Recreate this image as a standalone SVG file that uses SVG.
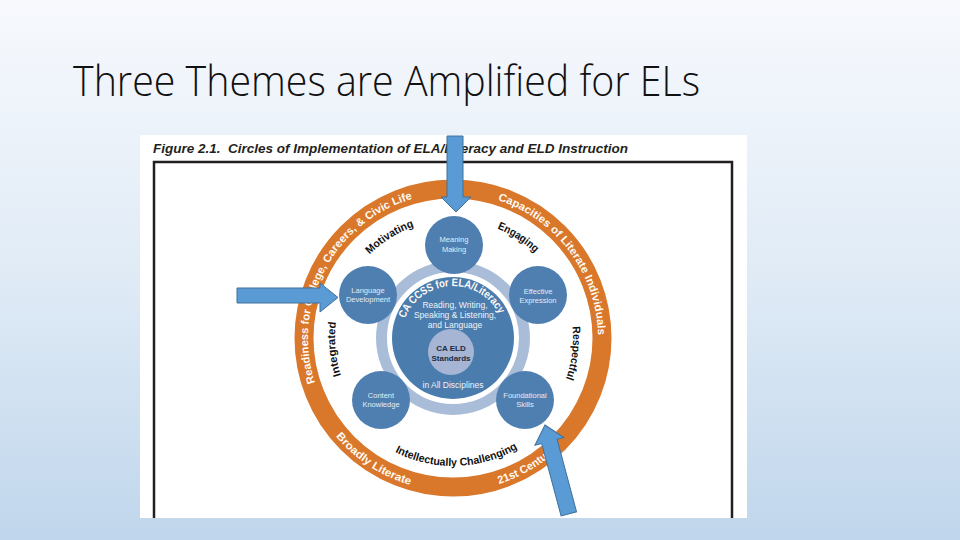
<svg xmlns="http://www.w3.org/2000/svg" width="960" height="540" viewBox="0 0 960 540">
<defs>
<linearGradient id="bg" x1="0" y1="0" x2="0" y2="1">
<stop offset="0" stop-color="#f7f9fd"/>
<stop offset="0.5" stop-color="#e0ebf6"/>
<stop offset="1" stop-color="#c0d6ec"/>
</linearGradient>
<style>
.node circle{fill:#4e7fb0}
.nt{font-family:"Liberation Sans",Arial,sans-serif;font-size:7.5px;fill:#e4ecf5;text-anchor:middle}
.bt{font-family:"Liberation Sans",Arial,sans-serif;font-size:8.5px;fill:#eef3f9;text-anchor:middle}
.ring{font-family:"Liberation Sans",Arial,sans-serif;font-weight:bold;font-size:11px;fill:#fffaf3}
.inner{font-family:"Liberation Sans",Arial,sans-serif;font-weight:bold;font-size:11px;fill:#111}
.arrow{fill:#5b9bd5;stroke:#41719c;stroke-width:1}
</style>
<path id="p-ready" d="M-137.9,44.8 A145,145 0 0 1 -40,-139.4"/>
<path id="p-cap" d="M44.8,-137.9 A145,145 0 0 1 145,-2.5"/>
<path id="p-broad" d="M-117.2,98.3 A153,153 0 0 0 -42.2,147.1"/>
<path id="p-21" d="M46,145.9 A153,153 0 0 0 103.4,112.8"/>
<path id="p-mot" d="M-83.4,-83.4 A118,118 0 0 1 -38.4,-111.6"/>
<path id="p-eng" d="M44.2,-109.4 A118,118 0 0 1 82,-84.9"/>
<path id="p-resp" d="M119.4,-11.5 A120,120 0 0 1 112.8,41"/>
<path id="p-int" d="M-58.1,114 A128,128 0 0 0 65,110.3"/>
<path id="p-integ" d="M-111.9,37.4 A118,118 0 0 1 -116.9,-16.4"/>
<path id="p-ccss" d="M-48.2,-19.5 A52,52 0 0 1 46.3,-23.6"/>
</defs>

<rect x="0" y="0" width="960" height="540" fill="url(#bg)"/>
<text x="73" y="96" font-family="Open Sans, Liberation Sans, Arial, sans-serif" font-weight="300" font-size="42" fill="#111" textLength="627" lengthAdjust="spacingAndGlyphs">Three Themes are Amplified for ELs</text>

<g id="figure">
<rect x="140" y="135" width="607" height="383" fill="#ffffff"/>
<text x="153" y="153" font-family="Liberation Sans, Arial, sans-serif" font-size="12" font-weight="bold" font-style="italic" fill="#231f20" textLength="475" lengthAdjust="spacingAndGlyphs">Figure 2.1.&#160; Circles of Implementation of ELA/Literacy and ELD Instruction</text>
<path d="M154,518 V162 H732 V518" fill="none" stroke="#231f20" stroke-width="2.5"/>

<g id="outer-ring" transform="translate(453,338)">
<circle cx="0" cy="0" r="149" fill="none" stroke="#d9772a" stroke-width="19"/>
<text class="ring"><textPath href="#p-ready" textLength="232" lengthAdjust="spacingAndGlyphs">Readiness for College, Careers, &amp; Civic Life</textPath></text>
<text class="ring"><textPath href="#p-cap" textLength="179" lengthAdjust="spacingAndGlyphs">Capacities of Literate Individuals</textPath></text>
<text class="ring"><textPath href="#p-broad" textLength="90" lengthAdjust="spacingAndGlyphs">Broadly Literate</textPath></text>
<text class="ring"><textPath href="#p-21" textLength="66" lengthAdjust="spacingAndGlyphs">21st Century</textPath></text>
<text class="inner"><textPath href="#p-mot" textLength="53" lengthAdjust="spacingAndGlyphs">Motivating</textPath></text>
<text class="inner"><textPath href="#p-eng" textLength="45" lengthAdjust="spacingAndGlyphs">Engaging</textPath></text>
<text class="inner"><textPath href="#p-resp" textLength="53" lengthAdjust="spacingAndGlyphs">Respectful</textPath></text>
<text class="inner"><textPath href="#p-int" textLength="128" lengthAdjust="spacingAndGlyphs">Intellectually Challenging</textPath></text>
<text class="inner"><textPath href="#p-integ" textLength="54" lengthAdjust="spacingAndGlyphs">Integrated</textPath></text>
</g>

<g id="core" transform="translate(453,338)">
<circle cx="0" cy="0" r="71.5" fill="none" stroke="#a9bdd9" stroke-width="11"/>
<circle cx="0" cy="0" r="61" fill="#4a7cad"/>
<text class="ring" font-size="10"><textPath href="#p-ccss" textLength="118" lengthAdjust="spacingAndGlyphs">CA CCSS for ELA/Literacy</textPath></text>
<text class="bt" x="2" y="-30">Reading, Writing,</text>
<text class="bt" x="2" y="-20">Speaking &amp; Listening,</text>
<text class="bt" x="2" y="-10">and Language</text>
<text class="bt" x="0" y="50">in All Disciplines</text>
</g>

<g id="ca-eld">
<circle cx="451" cy="352" r="23" fill="#a5b5d3"/>
<text x="451" y="351" font-family="Liberation Sans, Arial, sans-serif" font-size="8" font-weight="bold" fill="#1d2b45" text-anchor="middle">CA ELD</text>
<text x="451" y="361" font-family="Liberation Sans, Arial, sans-serif" font-size="8" font-weight="bold" fill="#1d2b45" text-anchor="middle">Standards</text>
</g>

<g id="meaning-making" class="node"><circle cx="454" cy="245" r="29"/><text class="nt" x="454" y="242">Meaning</text><text class="nt" x="454" y="252">Making</text></g>
<g id="language-development" class="node"><circle cx="368" cy="295" r="29"/><text class="nt" x="368" y="293">Language</text><text class="nt" x="368" y="302">Development</text></g>
<g id="effective-expression" class="node"><circle cx="538" cy="295" r="29"/><text class="nt" x="538" y="294">Effective</text><text class="nt" x="538" y="303">Expression</text></g>
<g id="content-knowledge" class="node"><circle cx="381" cy="400" r="29"/><text class="nt" x="381" y="398">Content</text><text class="nt" x="381" y="407">Knowledge</text></g>
<g id="foundational-skills" class="node"><circle cx="525" cy="400" r="29"/><text class="nt" x="525" y="398">Foundational</text><text class="nt" x="525" y="407">Skills</text></g>
</g>

<g id="arrows">
<polygon class="arrow" points="447,136 463,136 463,197 471,197 456,212 441,197 447,197"/>
<polygon class="arrow" points="237,288 320,288 320,283 338,297.5 320,312 320,303 237,303"/>
<polygon class="arrow" transform="translate(545,425) rotate(-15)" points="0,0 15,17 8,17 8,92 -8,92 -8,17 -15,17"/>
</g>
</svg>
